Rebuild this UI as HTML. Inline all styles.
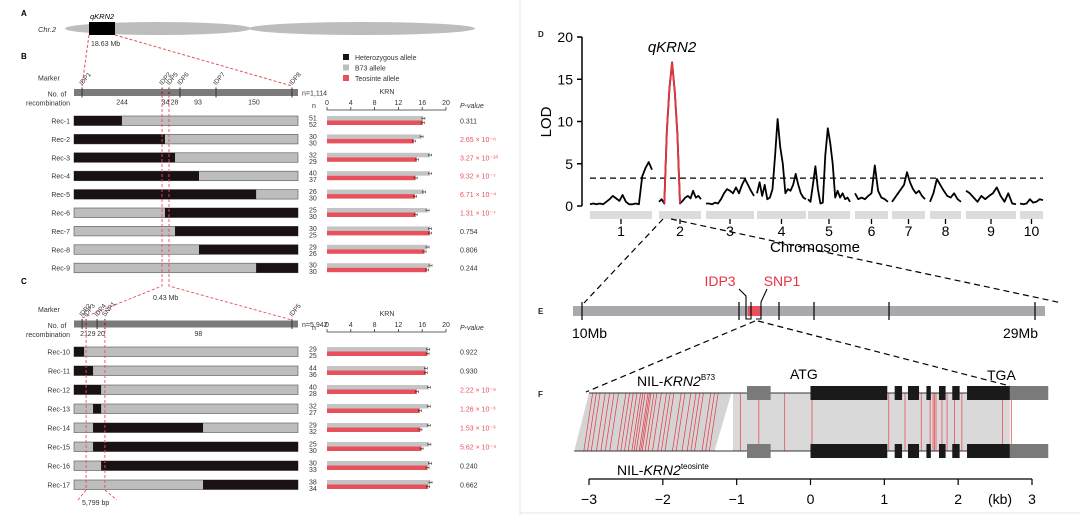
<!DOCTYPE html>
<html><head><meta charset="utf-8">
<style>
html,body{margin:0;padding:0;background:#fff;}
svg{display:block;font-family:"Liberation Sans",Arial,sans-serif;}
</style></head>
<body>
<svg id="fig" width="1080" height="515" viewBox="0 0 1080 515" xmlns="http://www.w3.org/2000/svg">
<line x1="520" y1="0" x2="520" y2="515" stroke="#e4e4e4" stroke-width="1"/>
<line x1="520" y1="513" x2="1080" y2="513" stroke="#e4e4e4" stroke-width="1"/>
<text x="21" y="16" font-size="8" font-weight="bold">A</text>
<text x="38" y="32" font-size="7.5" font-style="italic" fill="#333">Chr.2</text>
<ellipse cx="158" cy="28.5" rx="93" ry="6.5" fill="#bdbdbd"/>
<ellipse cx="362" cy="28.5" rx="113" ry="6.5" fill="#bdbdbd"/>
<rect x="89" y="22" width="26" height="13" fill="#000"/>
<text x="90" y="19" font-size="7.5" font-style="italic">qKRN2</text>
<text x="91" y="46" font-size="7" fill="#333">18.63 Mb</text>
<line x1="89" y1="35" x2="82" y2="86" stroke="#e8505b" stroke-dasharray="3,2"/>
<line x1="115" y1="35" x2="292" y2="86" stroke="#e8505b" stroke-dasharray="3,2"/>
<text x="21" y="59" font-size="8" font-weight="bold">B</text>
<g font-size="7" fill="#333">
<rect x="343" y="54" width="6" height="6" fill="#1a1212"/>
<text x="355" y="60">Heterozygous allele</text>
<rect x="343" y="64.5" width="6" height="6" fill="#bdbdbd"/>
<text x="355" y="70.5">B73 allele</text>
<rect x="343" y="75" width="6" height="6" fill="#e8505b"/>
<text x="355" y="81">Teosinte allele</text>
</g>
<g id="gB"></g>
<g id="gC"></g>
<text x="21" y="284" font-size="8" font-weight="bold">C</text>
<g id="gD"></g>
<g id="gE"></g>
<g id="gF"></g>
</svg>
<script>
const recB = ["Rec-1","Rec-2","Rec-3","Rec-4","Rec-5","Rec-6","Rec-7","Rec-8","Rec-9"];
const hetStartB = [0,0,0,0,0,0.406,0.451,0.558,0.813];
const hetEndB   = [0.214,0.406,0.451,0.558,0.813,1,1,1,1];
const nB73B = [51,30,32,40,26,25,30,29,30];
const nTeoB = [52,30,29,37,30,30,25,26,30];
const krnB73B = [16.2,15.9,17.3,17.3,16.3,16.9,17.3,16.9,17.4];
const krnTeoB = [16.1,14.6,15.1,14.9,14.8,14.9,17.3,16.4,16.8];
const pB = ["0.311","2.65 × 10⁻⁶","3.27 × 10⁻¹⁰","9.32 × 10⁻⁷","6.71 × 10⁻⁴","1.31 × 10⁻⁷","0.754","0.806","0.244"];
const sigB = [false,true,true,true,true,true,false,false,false];
const markersB = ["IDP1","IDP2","IDP5","IDP6","IDP7","IDP8"];
const markerPosB = [0.036,0.393,0.424,0.473,0.634,0.973];
const recombB = ["244","34","28","93","150"];
const recC = ["Rec-10","Rec-11","Rec-12","Rec-13","Rec-14","Rec-15","Rec-16","Rec-17"];
const hetStartC = [0,0,0,0.085,0.085,0.085,0.121,0.576];
const hetEndC   = [0.045,0.085,0.121,0.121,0.576,1,1,1];
const nB73C = [29,44,40,32,29,25,30,38];
const nTeoC = [25,36,28,27,32,30,33,34];
const krnB73C = [17.0,16.6,17.1,17.1,17.1,17.2,17.3,17.4];
const krnTeoC = [16.9,16.6,15.1,15.6,15.7,15.9,16.9,17.0];
const pC = ["0.922","0.930","2.22 × 10⁻⁶","1.26 × 10⁻³","1.53 × 10⁻³","5.62 × 10⁻⁴","0.240","0.662"];
const sigC = [false,false,true,true,true,true,false,false];
const markersC = ["IDP2","IDP3","IDP4","SNP1","IDP5"];
const markerPosC = [0.036,0.054,0.103,0.138,0.973];
const recombC = ["21","29","20","98"];
const krnTicks = [0,4,8,12,16,20];
const chromNames = ["1","2","3","4","5","6","7","8","9","10"];
const lod1 = [0.2,0.3,0.2,0.3,0.2,0.5,0.8,1.2,0.9,0.6,1.3,0.5,0.2,0.2,0.3,0.2,3.5,4.5,5.2,4.3];
const lod2 = [0.5,0.8,0.3,9,14,17,13.5,8.5,0.3,0.6,1,1.2,0.9,1.8,1,1.2,0.8];
const lod3 = [0.3,0.3,0.2,0.4,0.3,0.8,1.5,2,1.8,1.5,2.2,1.5,2.5,3.2,2.5,1.8,1.2];
const lod4 = [1.5,2.8,1.2,2.5,0.8,1,2,6,10.3,7,5,1.5,2,1.8,2.5,3.8,2.5,1.5,1,0.8];
const lod5 = [0.8,0.5,2.5,4.7,2,0.3,0.4,6,9.2,7.5,5,1,1.8,1,1.5,0.8,1,0.5];
const lod6 = [1.5,0.8,1,0.8,1.2,1.5,4.8,1.8,1,0.8,0.5];
const lod7 = [0.5,1,1.5,2,2.5,4,2.8,2,1.5,1.8,1.2,0.8];
const lod8 = [0.5,1.5,3.2,2.5,1.8,1.2,1,1.5,0.8,0.5];
const lod9 = [1.8,1.5,1,0.5,1.2,0.8,1.2,1.5,2.2,1.2,0.5,1.5,0.3,0.2];
const lod10 = [0.3,0.2,0.3,0.8,0.4,0.5,0.8,0.7];
const lodRedRange = [2,8];
const lodThreshold = 3.3;
const lodTicks = [0,5,10,15,20];
const geneTicks = [-3,-2,-1,0,1,2,3];
const exonsKb = [[0.0,1.04],[1.14,1.24],[1.32,1.47],[1.57,1.63],[1.74,1.83],[1.92,2.02],[2.12,2.7]];
const utrKb = [[-0.86,-0.54],[2.7,3.22]];
const snpLeftKb = [-2.95,-2.9,-2.85,-2.78,-2.72,-2.66,-2.6,-2.5,-2.45,-2.4,-2.35,-2.3,-2.27,-2.24,-2.2,-2.18,-2.16,-2.12,-2.08,-2.02,-1.95,-1.9,-1.85,-1.75,-1.7,-1.62,-1.55,-1.5,-1.45,-1.35,-1.3,-1.25];
const snpRightKb = [-0.95,-0.7,-0.35,0.02,1.06,1.28,1.5,1.62,1.66,1.68,1.7,1.78,1.85,1.95,2.05,2.6,2.72];

const NS="http://www.w3.org/2000/svg";
function el(parent,tag,attrs,text){const e=document.createElementNS(NS,tag);for(const k in attrs)e.setAttribute(k,attrs[k]);if(text!==undefined)e.textContent=text;parent.appendChild(e);return e;}

const BX0=74,BX1=298,KX0=327,KX1=446;
const xBar=f=>BX0+f*(BX1-BX0);
const xK=v=>KX0+(v/20)*(KX1-KX0);
function buildPanel(g,o){
  let mb=el(g,'rect',{x:BX0,y:o.barY-3.5,width:BX1-BX0,height:7,fill:'#7a7a7a'});
  
  
  let t=el(g,'text',{x:38,y:o.barY-12,'font-size':7,fill:'#333'},'Marker');
  
  
  t=el(g,'text',{x:57,y:o.barY+4,'font-size':7,fill:'#333','text-anchor':'middle'},'No. of');
  
  
  t=el(g,'text',{x:48,y:o.barY+13,'font-size':7,fill:'#333','text-anchor':'middle'},'recombination');
  
  
  t=el(g,'text',{x:302,y:o.barY+3,'font-size':7,fill:'#333'},o.nLabel);
  
  
  o.markers.forEach((m,i)=>{
    const x=xBar(o.markerPos[i]);
    let l=el(g,'line',{x1:x,y1:o.barY-5,x2:x,y2:o.barY+5,stroke:'#333','stroke-width':1});
    
    
    let tx=el(g,'text',{x:x,y:o.barY-7,'font-size':6.5,fill:'#333',transform:`rotate(-50 ${x} ${o.barY-7})`},m);
    
    
  });
  o.recomb.forEach((r,i)=>{
    const x=(xBar(o.markerPos[i])+xBar(o.markerPos[i+1]))/2;
    let tx=el(g,'text',{x:x,y:o.barY+12,'font-size':7,fill:'#333','text-anchor':'middle'},r);
    
    
  });
  const ay=o.axisY;
  let ax=el(g,'line',{x1:KX0,y1:ay,x2:KX1,y2:ay,stroke:'#333','stroke-width':0.8});
  
  
  krnTicks.forEach(v=>{
    let tl=el(g,'line',{x1:xK(v),y1:ay,x2:xK(v),y2:ay-3,stroke:'#333','stroke-width':0.8});
    
    
    let tt=el(g,'text',{x:xK(v),y:ay-5,'font-size':7,fill:'#333','text-anchor':'middle'},String(v));
    
    
  });
  t=el(g,'text',{x:387,y:ay-16,'font-size':7,fill:'#333','text-anchor':'middle'},'KRN');
  
  
  t=el(g,'text',{x:312,y:ay-2,'font-size':7,fill:'#333'},'n');
  
  
  t=el(g,'text',{x:460,y:ay-2,'font-size':7,fill:'#333','font-style':'italic'},'P-value');
  
  
  o.rec.forEach((r,i)=>{
    const cy=o.row0+i*o.step;
    let lb=el(g,'text',{x:70,y:cy+2.5,'font-size':7,fill:'#333','text-anchor':'end'},r);
    
    
    let bg=el(g,'rect',{x:BX0,y:cy-5,width:BX1-BX0,height:9.5,fill:'#bdbdbd',stroke:'#666','stroke-width':0.7});
    
    
    let hz=el(g,'rect',{x:xBar(o.hs[i]),y:cy-5,width:xBar(o.he[i])-xBar(o.hs[i]),height:9.5,fill:'#1a1212'});
    
    
    let n1=el(g,'text',{x:309,y:cy-0.5,'font-size':7,fill:'#333'},String(o.n1[i]));
    
    
    let n2=el(g,'text',{x:309,y:cy+6,'font-size':7,fill:'#333'},String(o.n2[i]));
    
    
    let b1=el(g,'rect',{x:KX0,y:cy-5,width:xK(o.k1[i])-KX0,height:4.5,fill:'#c4c4c4'});
    
    
    let b2=el(g,'rect',{x:KX0,y:cy-0.5,width:xK(o.k2[i])-KX0,height:4.5,fill:'#e8505b'});
    
    
    [[o.k1[i],cy-2.7],[o.k2[i],cy+1.7]].forEach(([v,yy])=>{
      let e=el(g,'path',{d:`M${xK(v)-1.5} ${yy}H${xK(v)+1.5}M${xK(v)-1.5} ${yy-1.3}V${yy+1.3}M${xK(v)+1.5} ${yy-1.3}V${yy+1.3}`,stroke:'#333','stroke-width':0.6,fill:'none'});
      
      
    });
    let pv=el(g,'text',{x:460,y:cy+2.5,'font-size':7,fill:o.sig[i]?'#e8505b':'#333'},o.p[i]);
    
    
  });
}
const gB=document.getElementById('gB'),gC=document.getElementById('gC');
buildPanel(gB,{barY:92.5,nLabel:'n=1,114',markers:markersB,markerPos:markerPosB,recomb:recombB,axisY:110,rec:recB,row0:121,step:18.4,hs:hetStartB,he:hetEndB,n1:nB73B,n2:nTeoB,k1:krnB73B,k2:krnTeoB,p:pB,sig:sigB});
buildPanel(gC,{barY:324,nLabel:'n=5,942',markers:markersC,markerPos:markerPosC,recomb:recombC,axisY:332,rec:recC,row0:352,step:19,hs:hetStartC,he:hetEndC,n1:nB73C,n2:nTeoC,k1:krnB73C,k2:krnTeoC,p:pC,sig:sigC});
const dashR={stroke:'#e8505b','stroke-dasharray':'3,2','stroke-width':0.9,fill:'none'};
function dl(g,d,name){let p=el(g,'path',Object.assign({d:d},dashR));}
const xi2=xBar(markerPosB[1]), xi5=xBar(markerPosB[2]);
dl(gB,`M${xi2} 89V286L${xBar(markerPosC[0])} 318`,'zoom-line-b-left');
dl(gB,`M${xi5} 89V286L${xBar(markerPosC[4])} 320`,'zoom-line-b-right');
let t43=el(gB,'text',{x:153,y:300,'font-size':7,fill:'#333'},'0.43 Mb');


const xc3=xBar(markerPosC[1]), xc4=xBar(markerPosC[3]);
dl(gC,`M${xc3} 320V490L78 500`,'zoom-line-c-left');
dl(gC,`M${xc4} 320V490L117 500`,'zoom-line-c-right');
let t57=el(gC,'text',{x:82,y:505,'font-size':7,fill:'#333'},'5,799 bp');



const gD=document.getElementById('gD');
const lodData=[lod1,lod2,lod3,lod4,lod5,lod6,lod7,lod8,lod9,lod10];
const chrSpan=[[590,652],[659,701],[706,754],[757,806],[808,850],[855,888],[892,925],[930,961],[966,1016],[1020,1043]];
const yL=v=>206-v*(169/20);
let td=el(gD,'text',{x:538,y:37,'font-size':8,'font-weight':'bold',fill:'#223'},'D');


let ya=el(gD,'line',{x1:582,y1:yL(20),x2:582,y2:yL(0),stroke:'#000','stroke-width':1.5});


lodTicks.forEach(v=>{
  let l=el(gD,'line',{x1:577,y1:yL(v),x2:582,y2:yL(v),stroke:'#000','stroke-width':1.5});
  
  
  let tt=el(gD,'text',{x:573,y:yL(v)+5,'font-size':14,'text-anchor':'end'},String(v));
  
  
});
let lt=el(gD,'text',{x:551,y:122,'font-size':15,'text-anchor':'middle',transform:'rotate(-90 551 122)'},'LOD');


let th=el(gD,'line',{x1:590,y1:yL(lodThreshold),x2:1043,y2:yL(lodThreshold),stroke:'#000','stroke-width':1.3,'stroke-dasharray':'6,4'});


lodData.forEach((arr,c)=>{
  const [x0,x1]=chrSpan[c];
  const xs=arr.map((v,i)=>x0+i*(x1-x0)/(arr.length-1));
  let d='';arr.forEach((v,i)=>{d+=(i?'L':'M')+xs[i].toFixed(1)+' '+yL(v).toFixed(1);});
  let p=el(gD,'path',{d:d,fill:'none',stroke:'#000','stroke-width':1.8,'stroke-linejoin':'round'});
  
  
  if(c===1){
    let dr='';for(let i=lodRedRange[0];i<=lodRedRange[1];i++){dr+=(i===lodRedRange[0]?'M':'L')+xs[i].toFixed(1)+' '+yL(arr[i]).toFixed(1);}
    let pr=el(gD,'path',{d:dr,fill:'none',stroke:'#e8333f','stroke-width':1.8});
    
    
  }
  let band=el(gD,'rect',{x:x0,y:211,width:x1-x0,height:8,fill:'#dcdcdc'});
  
  
  const cx=(x0+x1)/2;
  let tk=el(gD,'line',{x1:cx,y1:219,x2:cx,y2:224,stroke:'#000','stroke-width':1.3});
  
  
  let cl=el(gD,'text',{x:cx,y:236,'font-size':14,'text-anchor':'middle'},chromNames[c]);
  
  
});
let qk=el(gD,'text',{x:672,y:52,'font-size':15,'font-style':'italic','text-anchor':'middle'},'qKRN2');


let ct=el(gD,'text',{x:815,y:252,'font-size':15,'text-anchor':'middle'},'Chromosome');


const dashK={stroke:'#000','stroke-dasharray':'6,4','stroke-width':1.2,fill:'none'};
let z1=el(gD,'path',Object.assign({d:'M663 219L584 303'},dashK));


let z2=el(gD,'path',Object.assign({d:'M671 219L1062 303'},dashK));



const gE=document.getElementById('gE');
let te=el(gE,'text',{x:538,y:314,'font-size':8,'font-weight':'bold',fill:'#223'},'E');


let eb=el(gE,'rect',{x:573,y:306,width:472,height:10,fill:'#a8a8ad'});


let er=el(gE,'rect',{x:748,y:306,width:13,height:10,fill:'#e8505b'});


[582,739,779,814,889,1035].forEach(x=>{
  let l=el(gE,'line',{x1:x,y1:302,x2:x,y2:320,stroke:'#000','stroke-width':1.2});
  
  
});
let br=el(gE,'path',{d:'M739 289L746 296V319H751V302M761 302V319H756M761 302L767 289',fill:'none',stroke:'#000','stroke-width':1.1});


let i3=el(gE,'text',{x:720,y:286,'font-size':14,fill:'#e8333f','text-anchor':'middle'},'IDP3');


let s1=el(gE,'text',{x:782,y:286,'font-size':14,fill:'#e8333f','text-anchor':'middle'},'SNP1');


let m10=el(gE,'text',{x:572,y:338,'font-size':14},'10Mb');


let m29=el(gE,'text',{x:1038,y:338,'font-size':14,'text-anchor':'end'},'29Mb');


let z3=el(gE,'path',Object.assign({d:'M755 321L586 392'},dashK));


let z4=el(gE,'path',Object.assign({d:'M758 321L1010 386'},dashK));



const gF=document.getElementById('gF');
const xG=kb=>589+(kb+3)*(1032-589)/6;
const TY=393,BY=451;
let tf=el(gF,'text',{x:538,y:397,'font-size':8,'font-weight':'bold',fill:'#223'},'F');


let sh1=el(gF,'polygon',{points:`${xG(-3)},${TY} ${xG(-1.07)},${TY} ${xG(-1.3)},${BY} ${xG(-3.2)},${BY}`,fill:'#d4d4d4'});


let sh2=el(gF,'rect',{x:xG(-1.05),y:TY,width:xG(2.7)-xG(-1.05),height:BY-TY,fill:'#d9d9d9'});


snpLeftKb.forEach(k=>{
  let l=el(gF,'line',{x1:xG(k),y1:TY,x2:xG(k-0.12),y2:BY,stroke:'#e8333f','stroke-width':0.7});
  
  
});
snpRightKb.forEach(k=>{
  let l=el(gF,'line',{x1:xG(k),y1:TY,x2:xG(k),y2:BY,stroke:'#e8505b','stroke-width':0.8});
  
  
});
[[TY,xG(-3)],[BY,xG(-3.2)]].forEach(([y,xs],j)=>{
  let l=el(gF,'line',{x1:xs,y1:y,x2:1045,y2:y,stroke:'#333','stroke-width':1});
  
  
  utrKb.forEach(([a,b])=>{
    let r=el(gF,'rect',{x:xG(a),y:y-7,width:xG(b)-xG(a),height:14,fill:'#7a7a7a'});
    
    
  });
  exonsKb.forEach(([a,b])=>{
    let r=el(gF,'rect',{x:xG(a),y:y-7,width:xG(b)-xG(a),height:14,fill:'#1a1a1a'});
    
    
  });
});
let nb=el(gF,'text',{x:637,y:386,'font-size':14},'NIL-');


el(nb,'tspan',{'font-style':'italic'},'KRN2');
el(nb,'tspan',{'font-size':8,dy:-6},'B73');
let nt=el(gF,'text',{x:617,y:475,'font-size':14},'NIL-');


el(nt,'tspan',{'font-style':'italic'},'KRN2');
el(nt,'tspan',{'font-size':8,dy:-6},'teosinte');
let atg=el(gF,'text',{x:790,y:379,'font-size':14},'ATG');


let tga=el(gF,'text',{x:987,y:380,'font-size':14},'TGA');


let sx=el(gF,'line',{x1:xG(-3),y1:479,x2:xG(3),y2:479,stroke:'#000','stroke-width':1.2});


geneTicks.forEach(v=>{
  let l=el(gF,'line',{x1:xG(v),y1:479,x2:xG(v),y2:485,stroke:'#000','stroke-width':1.2});
  
  
  let tt=el(gF,'text',{x:xG(v),y:504,'font-size':14,'text-anchor':'middle'},v<0?'−'+Math.abs(v):String(v));
  
  
});
let kbl=el(gF,'text',{x:1000,y:504,'font-size':14,'text-anchor':'middle'},'(kb)');


</script>
</body></html>
